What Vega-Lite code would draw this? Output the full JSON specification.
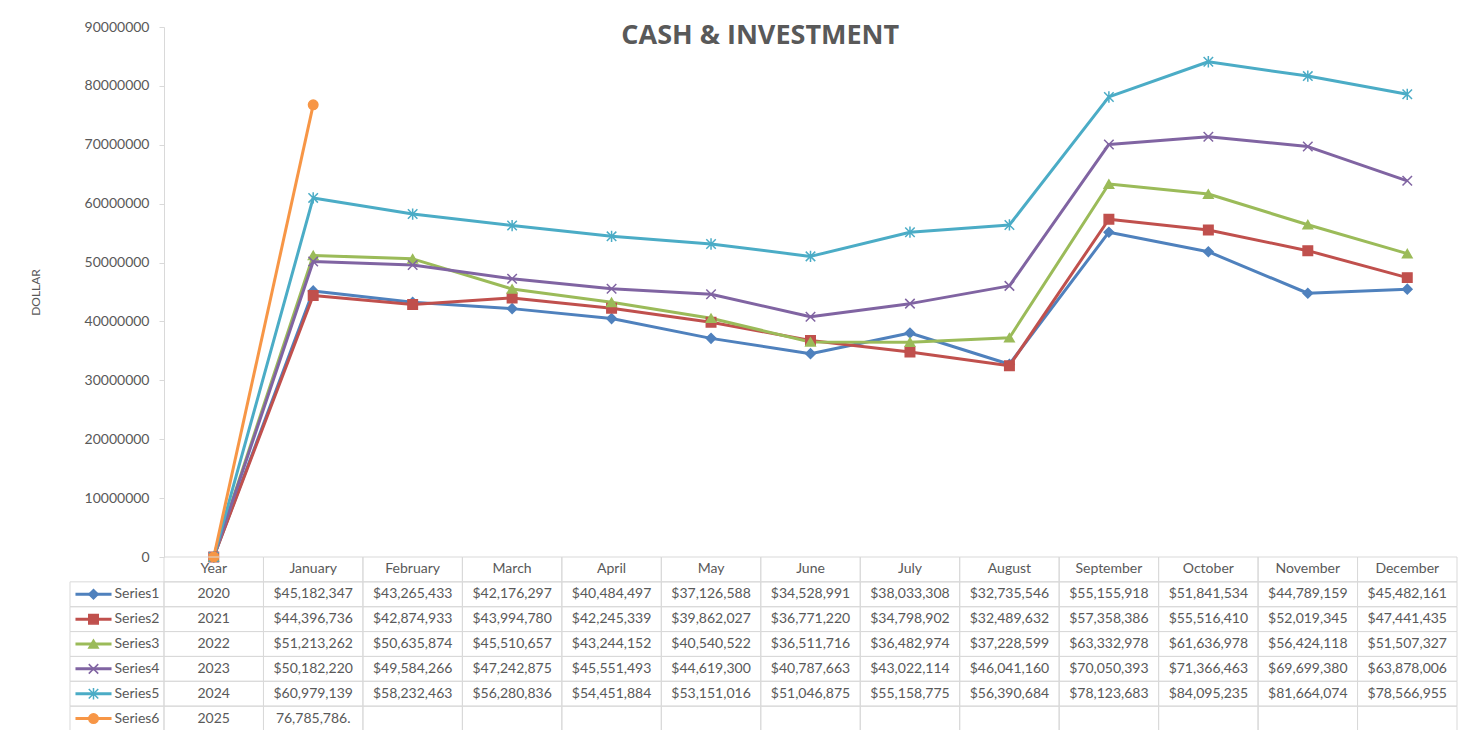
{
  "$schema": "https://vega.github.io/schema/vega-lite/v6.json",
  "padding": {"left": 29, "top": 20, "right": 5, "bottom": 0},
  "config": {"view": {"stroke": null}, "font": "Lato"},
  "title": {"text": "CASH & INVESTMENT", "font": "Open Sans", "fontWeight": "bold", "fontSize": 27, "color": "#595959", "anchor": "middle", "frame": "bounds", "dx": 17, "dy": 34},
  "columns": 2,
  "bounds": "flush",
  "spacing": 0,
  "resolve": {"scale": {"x": "independent", "y": "independent", "color": "independent", "fill": "independent", "stroke": "independent", "shape": "independent"}},
  "datasets": {
    "tbl": [
      {"series": "Series1", "month": "Year", "value": 2020, "label": "2020"},
      {"series": "Series1", "month": "January", "value": 45182347, "label": "$45,182,347"},
      {"series": "Series1", "month": "February", "value": 43265433, "label": "$43,265,433"},
      {"series": "Series1", "month": "March", "value": 42176297, "label": "$42,176,297"},
      {"series": "Series1", "month": "April", "value": 40484497, "label": "$40,484,497"},
      {"series": "Series1", "month": "May", "value": 37126588, "label": "$37,126,588"},
      {"series": "Series1", "month": "June", "value": 34528991, "label": "$34,528,991"},
      {"series": "Series1", "month": "July", "value": 38033308, "label": "$38,033,308"},
      {"series": "Series1", "month": "August", "value": 32735546, "label": "$32,735,546"},
      {"series": "Series1", "month": "September", "value": 55155918, "label": "$55,155,918"},
      {"series": "Series1", "month": "October", "value": 51841534, "label": "$51,841,534"},
      {"series": "Series1", "month": "November", "value": 44789159, "label": "$44,789,159"},
      {"series": "Series1", "month": "December", "value": 45482161, "label": "$45,482,161"},
      {"series": "Series2", "month": "Year", "value": 2021, "label": "2021"},
      {"series": "Series2", "month": "January", "value": 44396736, "label": "$44,396,736"},
      {"series": "Series2", "month": "February", "value": 42874933, "label": "$42,874,933"},
      {"series": "Series2", "month": "March", "value": 43994780, "label": "$43,994,780"},
      {"series": "Series2", "month": "April", "value": 42245339, "label": "$42,245,339"},
      {"series": "Series2", "month": "May", "value": 39862027, "label": "$39,862,027"},
      {"series": "Series2", "month": "June", "value": 36771220, "label": "$36,771,220"},
      {"series": "Series2", "month": "July", "value": 34798902, "label": "$34,798,902"},
      {"series": "Series2", "month": "August", "value": 32489632, "label": "$32,489,632"},
      {"series": "Series2", "month": "September", "value": 57358386, "label": "$57,358,386"},
      {"series": "Series2", "month": "October", "value": 55516410, "label": "$55,516,410"},
      {"series": "Series2", "month": "November", "value": 52019345, "label": "$52,019,345"},
      {"series": "Series2", "month": "December", "value": 47441435, "label": "$47,441,435"},
      {"series": "Series3", "month": "Year", "value": 2022, "label": "2022"},
      {"series": "Series3", "month": "January", "value": 51213262, "label": "$51,213,262"},
      {"series": "Series3", "month": "February", "value": 50635874, "label": "$50,635,874"},
      {"series": "Series3", "month": "March", "value": 45510657, "label": "$45,510,657"},
      {"series": "Series3", "month": "April", "value": 43244152, "label": "$43,244,152"},
      {"series": "Series3", "month": "May", "value": 40540522, "label": "$40,540,522"},
      {"series": "Series3", "month": "June", "value": 36511716, "label": "$36,511,716"},
      {"series": "Series3", "month": "July", "value": 36482974, "label": "$36,482,974"},
      {"series": "Series3", "month": "August", "value": 37228599, "label": "$37,228,599"},
      {"series": "Series3", "month": "September", "value": 63332978, "label": "$63,332,978"},
      {"series": "Series3", "month": "October", "value": 61636978, "label": "$61,636,978"},
      {"series": "Series3", "month": "November", "value": 56424118, "label": "$56,424,118"},
      {"series": "Series3", "month": "December", "value": 51507327, "label": "$51,507,327"},
      {"series": "Series4", "month": "Year", "value": 2023, "label": "2023"},
      {"series": "Series4", "month": "January", "value": 50182220, "label": "$50,182,220"},
      {"series": "Series4", "month": "February", "value": 49584266, "label": "$49,584,266"},
      {"series": "Series4", "month": "March", "value": 47242875, "label": "$47,242,875"},
      {"series": "Series4", "month": "April", "value": 45551493, "label": "$45,551,493"},
      {"series": "Series4", "month": "May", "value": 44619300, "label": "$44,619,300"},
      {"series": "Series4", "month": "June", "value": 40787663, "label": "$40,787,663"},
      {"series": "Series4", "month": "July", "value": 43022114, "label": "$43,022,114"},
      {"series": "Series4", "month": "August", "value": 46041160, "label": "$46,041,160"},
      {"series": "Series4", "month": "September", "value": 70050393, "label": "$70,050,393"},
      {"series": "Series4", "month": "October", "value": 71366463, "label": "$71,366,463"},
      {"series": "Series4", "month": "November", "value": 69699380, "label": "$69,699,380"},
      {"series": "Series4", "month": "December", "value": 63878006, "label": "$63,878,006"},
      {"series": "Series5", "month": "Year", "value": 2024, "label": "2024"},
      {"series": "Series5", "month": "January", "value": 60979139, "label": "$60,979,139"},
      {"series": "Series5", "month": "February", "value": 58232463, "label": "$58,232,463"},
      {"series": "Series5", "month": "March", "value": 56280836, "label": "$56,280,836"},
      {"series": "Series5", "month": "April", "value": 54451884, "label": "$54,451,884"},
      {"series": "Series5", "month": "May", "value": 53151016, "label": "$53,151,016"},
      {"series": "Series5", "month": "June", "value": 51046875, "label": "$51,046,875"},
      {"series": "Series5", "month": "July", "value": 55158775, "label": "$55,158,775"},
      {"series": "Series5", "month": "August", "value": 56390684, "label": "$56,390,684"},
      {"series": "Series5", "month": "September", "value": 78123683, "label": "$78,123,683"},
      {"series": "Series5", "month": "October", "value": 84095235, "label": "$84,095,235"},
      {"series": "Series5", "month": "November", "value": 81664074, "label": "$81,664,074"},
      {"series": "Series5", "month": "December", "value": 78566955, "label": "$78,566,955"},
      {"series": "Series6", "month": "Year", "value": 2025, "label": "2025"},
      {"series": "Series6", "month": "January", "value": 76785786, "label": "76,785,786."},
      {"series": "Series6", "month": "February", "value": null, "label": ""},
      {"series": "Series6", "month": "March", "value": null, "label": ""},
      {"series": "Series6", "month": "April", "value": null, "label": ""},
      {"series": "Series6", "month": "May", "value": null, "label": ""},
      {"series": "Series6", "month": "June", "value": null, "label": ""},
      {"series": "Series6", "month": "July", "value": null, "label": ""},
      {"series": "Series6", "month": "August", "value": null, "label": ""},
      {"series": "Series6", "month": "September", "value": null, "label": ""},
      {"series": "Series6", "month": "October", "value": null, "label": ""},
      {"series": "Series6", "month": "November", "value": null, "label": ""},
      {"series": "Series6", "month": "December", "value": null, "label": ""}
    ]
  },
  "concat": [
    {
      "width": 94, "height": 530,
      "data": {"values": [{}]},
      "mark": {"type": "point", "opacity": 0}
    },
    {
      "width": 1293, "height": 530,
      "data": {"name": "tbl"},
      "transform": [{"filter": "datum.value != null"}],
      "encoding": {
        "x": {"field": "month", "type": "ordinal", "scale": {"type": "point", "padding": 0.5, "domain": ["Year","January","February","March","April","May","June","July","August","September","October","November","December"]}, "axis": null},
        "y": {"field": "value", "type": "quantitative", "scale": {"domain": [0, 90000000], "nice": false},
          "axis": {"values": [0,10000000,20000000,30000000,40000000,50000000,60000000,70000000,80000000,90000000], "format": "d", "grid": false,
            "domainColor": "#D9D9D9", "tickColor": "#D9D9D9", "tickSize": 5, "labelPadding": 10,
            "labelFont": "Lato", "labelFontSize": 14, "labelColor": "#595959",
            "title": "DOLLAR", "titleFont": "Lato", "titleFontSize": 12, "titleFontWeight": "normal", "titleColor": "#595959", "titlePadding": 42}}
      },
      "layer": [
        {
          "mark": {"type": "line", "strokeWidth": 3, "strokeJoin": "round"},
          "encoding": {"color": {"field": "series", "type": "nominal", "scale": {"domain": ["Series1","Series2","Series3","Series4","Series5","Series6"], "range": ["#4F81BD","#C0504D","#9BBB59","#8064A2","#4BACC6","#F79646"]}, "legend": null}}
        },
        {
          "mark": {"type": "point", "filled": true, "opacity": 1, "size": 90, "strokeWidth": 1.5},
          "encoding": {
            "fill": {"field": "series", "type": "nominal", "scale": {"domain": ["Series1","Series2","Series3","Series4","Series5","Series6"], "range": ["#4F81BD","#C0504D","#9BBB59","#8064A2","#4BACC6","#F79646"]}, "legend": null},
            "stroke": {"field": "series", "type": "nominal", "scale": {"domain": ["Series1","Series2","Series3","Series4","Series5","Series6"], "range": ["#4F81BD","#C0504D","#9BBB59","#8064A2","#4BACC6","#F79646"]}, "legend": null},
            "shape": {"field": "series", "type": "nominal", "scale": {"domain": ["Series1","Series2","Series3","Series4","Series5","Series6"], "range": ["diamond","square","triangle-up","M-1,-1L1,1M-1,1L1,-1","M-1,-1L1,1M-1,1L1,-1M0,-1.2L0,1.2","circle"]}, "legend": null}
          }
        }
      ]
    },
    {
      "width": 94, "height": 174,
      "data": {"name": "tbl"},
      "transform": [{"filter": "datum.month == 'Year'"}],
      "encoding": {
        "y": {"field": "series", "type": "nominal", "scale": {"type": "band", "domain": ["header","Series1","Series2","Series3","Series4","Series5","Series6"], "paddingInner": 0, "paddingOuter": 0}, "axis": null}
      },
      "layer": [
        {
          "mark": {"type": "rect", "fill": "white", "fillOpacity": 0, "stroke": "#D9D9D9", "strokeWidth": 1},
          "encoding": {"x": {"value": 0}, "x2": {"value": "width"}}
        },
        {
          "mark": {"type": "point", "filled": false, "opacity": 1, "size": 90, "strokeWidth": 3, "shape": "M-3.8,0L3.8,0"},
          "encoding": {
            "x": {"datum": "marker", "type": "ordinal", "scale": {"type": "point", "domain": ["marker","text"], "padding": 0.5}, "axis": null},
            "stroke": {"field": "series", "type": "nominal", "scale": {"domain": ["Series1","Series2","Series3","Series4","Series5","Series6"], "range": ["#4F81BD","#C0504D","#9BBB59","#8064A2","#4BACC6","#F79646"]}, "legend": null}
          }
        },
        {
          "mark": {"type": "point", "filled": true, "opacity": 1, "size": 90, "strokeWidth": 1.5},
          "encoding": {
            "x": {"datum": "marker", "type": "ordinal", "scale": {"type": "point", "domain": ["marker","text"], "padding": 0.5}, "axis": null},
            "fill": {"field": "series", "type": "nominal", "scale": {"domain": ["Series1","Series2","Series3","Series4","Series5","Series6"], "range": ["#4F81BD","#C0504D","#9BBB59","#8064A2","#4BACC6","#F79646"]}, "legend": null},
            "stroke": {"field": "series", "type": "nominal", "scale": {"domain": ["Series1","Series2","Series3","Series4","Series5","Series6"], "range": ["#4F81BD","#C0504D","#9BBB59","#8064A2","#4BACC6","#F79646"]}, "legend": null},
            "shape": {"field": "series", "type": "nominal", "scale": {"domain": ["Series1","Series2","Series3","Series4","Series5","Series6"], "range": ["diamond","square","triangle-up","M-1,-1L1,1M-1,1L1,-1","M-1,-1L1,1M-1,1L1,-1M0,-1.2L0,1.2","circle"]}, "legend": null}
          }
        }
      ]
    },
    {
      "width": 1293, "height": 174,
      "data": {"name": "tbl"},
      "encoding": {
        "x": {"field": "month", "type": "ordinal", "scale": {"type": "band", "domain": ["Year","January","February","March","April","May","June","July","August","September","October","November","December"], "paddingInner": 0, "paddingOuter": 0}, "axis": null},
        "y": {"field": "series", "type": "nominal", "scale": {"type": "band", "domain": ["header","Series1","Series2","Series3","Series4","Series5","Series6"], "paddingInner": 0, "paddingOuter": 0},
          "axis": {"ticks": false, "domain": false, "grid": false, "labelPadding": 5, "labelFont": "Lato", "labelFontSize": 14, "labelColor": "#595959", "labelExpr": "datum.value == 'header' ? '' : datum.value", "title": null}}
      },
      "layer": [
        {
          "mark": {"type": "rect", "fill": "white", "fillOpacity": 0, "stroke": "#D9D9D9", "strokeWidth": 1}
        },
        {
          "transform": [{"filter": "datum.series == 'Series1'"}],
          "mark": {"type": "rect", "fill": "white", "fillOpacity": 0, "stroke": "#D9D9D9", "strokeWidth": 1},
          "encoding": {"y": {"datum": "header"}}
        },
        {
          "mark": {"type": "text", "font": "Lato", "fontSize": 14, "color": "#595959", "align": "center", "baseline": "middle"},
          "encoding": {"text": {"field": "label"}}
        },
        {
          "transform": [{"filter": "datum.series == 'Series1'"}],
          "mark": {"type": "text", "font": "Lato", "fontSize": 14, "color": "#595959", "align": "center", "baseline": "middle"},
          "encoding": {"text": {"field": "month"}, "y": {"datum": "header"}}
        }
      ]
    }
  ]
}
